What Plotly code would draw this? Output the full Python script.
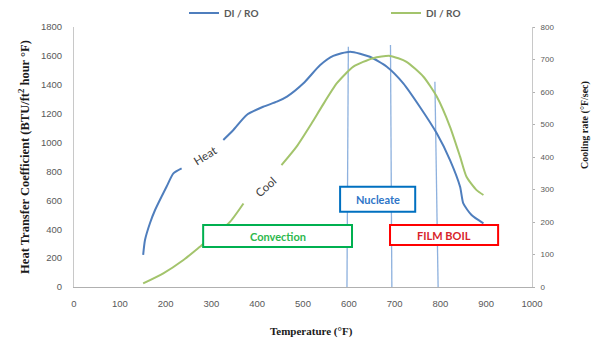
import plotly.graph_objects as go

# Heat transfer coefficient (left axis) vs temperature; None leaves room for the "Heat" label
heat_temp = [151, 155, 166, 177, 191, 202, 217, 235, None, 326, 348, 377, 413, 443, 465, 501,
             537, 566, 603, 646, 683, 719, 755, 792, 821, 843, 850, 868, 894]
heat_coef = [222, 325, 443, 533, 625, 694, 787, 822, None, 1018, 1087, 1191, 1248, 1283, 1318, 1410,
             1535, 1600, 1629, 1594, 1525, 1410, 1248, 1064, 879, 694, 579, 498, 441]

# Cooling rate (right axis) vs temperature; None leaves room for the "Cool" label
cool_temp = [151, 195, 239, 275, 312, 341, 370, None, 453, 486, 519, 541, 574, 610, 653, 690,
             726, 763, 792, 821, 843, 857, 879, 894]
cool_rate = [11, 42, 83, 124, 165, 201, 257, None, 375, 432, 504, 555, 627, 678, 704, 711,
             693, 647, 586, 493, 401, 339, 298, 283]

# Regime boundary markers: (temperature at base, temperature at top, top value)
boundary_lines = [(596, 599, 1664), (694, 691, 1675), (795, 788, 1421)]

# Regime boxes: (label, x0, x1, y0, y1, border colour, text colour)
regimes = [
    ("Convection", 282, 607, 277, 429, "#00B050", "#2DB84D"),
    ("Nucleate", 581, 745, 521, 694, "#0070C0", "#2E75C8"),
    ("FILM BOIL", 690, 926, 291, 429, "#FF0000", "#D8232A"),
]

BLUE = "#4F7EBD"
GREEN = "#A3C46C"
GRAY = "#595959"
TITLE_FONT = dict(family="Liberation Serif", color="#1A1A1A", weight="bold")

fig = go.Figure()
fig.add_trace(go.Scatter(x=heat_temp, y=heat_coef, mode="lines", name="DI / RO", legend="legend",
                         line=dict(color=BLUE, width=2, shape="spline", smoothing=0.6),
                         connectgaps=False))
fig.add_trace(go.Scatter(x=cool_temp, y=cool_rate, mode="lines", name="DI / RO", yaxis="y2",
                         legend="legend2",
                         line=dict(color=GREEN, width=2, shape="spline", smoothing=0.6),
                         connectgaps=False))

for xb, xt, top in boundary_lines:
    fig.add_shape(type="line", xref="x", yref="y", x0=xb, x1=xt, y0=0, y1=top,
                  line=dict(color="#8EB1DE", width=1.3), layer="below")

for label, x0, x1, y0, y1, col, tcol in regimes:
    fig.add_shape(type="rect", xref="x", yref="y", x0=x0, x1=x1, y0=y0, y1=y1,
                  line=dict(color=col, width=2), fillcolor="white")
    fig.add_annotation(x=(x0 + x1) / 2, y=(y0 + y1) / 2, xref="x", yref="y", text=label,
                       showarrow=False,
                       font=dict(family="Lato", size=11, color=tcol, weight="bold"))

fig.add_annotation(x=286, y=907, xref="x", yref="y", text="Heat", showarrow=False,
                   textangle=-32, font=dict(family="Lato", size=11.5, color="#404040"))
fig.add_annotation(x=419, y=695, xref="x", yref="y", text="Cool", showarrow=False,
                   textangle=-42, font=dict(family="Lato", size=11.5, color="#404040"))

# Axis titles placed in plot-fraction coordinates (plot area is 458 x 260 px)
fig.add_annotation(x=(311 - 74) / 458, y=-(331 - 287) / 260, xref="paper", yref="paper",
                   xanchor="center", yanchor="middle",
                   text="Temperature (°F)", showarrow=False,
                   font=dict(size=11, **TITLE_FONT))
fig.add_annotation(x=(585 - 74) / 458, y=(287 - 125) / 260, xref="paper", yref="paper",
                   xanchor="center", yanchor="middle",
                   text="Cooling rate (°F/sec)", showarrow=False, textangle=-90,
                   font=dict(size=10, **TITLE_FONT))

legend_style = dict(orientation="h", yanchor="middle", y=(287 - 13) / 260, xanchor="left",
                    font=dict(family="Lato", size=10, color=GRAY, weight="bold"),
                    bgcolor="rgba(0,0,0,0)", itemwidth=30)

fig.update_layout(
    width=603, height=347,
    margin=dict(l=74, r=71, t=27, b=60, autoexpand=False),
    paper_bgcolor="white", plot_bgcolor="white",
    showlegend=True,
    legend=dict(x=(184 - 74) / 458, **legend_style),
    legend2=dict(x=(386 - 74) / 458, **legend_style),
    xaxis=dict(range=[0, 1000], dtick=100, showgrid=False, zeroline=False,
               showline=True, linecolor="#B0B0B0", linewidth=1, ticks="",
               ticklabelstandoff=8,
               tickfont=dict(family="Liberation Sans", size=9.5, color=GRAY)),
    yaxis=dict(range=[0, 1800], dtick=200, showgrid=False, zeroline=False,
               showline=True, linecolor="#C8C8C8", linewidth=1, ticks="",
               ticklabelstandoff=9,
               tickfont=dict(family="Liberation Sans", size=9.5, color=GRAY),
               title=dict(text="Heat Transfer Coefficient (BTU/ft<sup>2</sup> hour °F)",
                          font=dict(size=12.5, **TITLE_FONT), standoff=8)),
    yaxis2=dict(range=[0, 800], dtick=100, overlaying="y", side="right", showgrid=False,
                zeroline=False, showline=True, linecolor="#C8C8C8", linewidth=1,
                ticks="outside", ticklen=2, tickcolor="#B0B0B0", ticklabelstandoff=4,
                tickfont=dict(family="Liberation Sans", size=8, color=GRAY)),
)

fig.write_html("out.html")
